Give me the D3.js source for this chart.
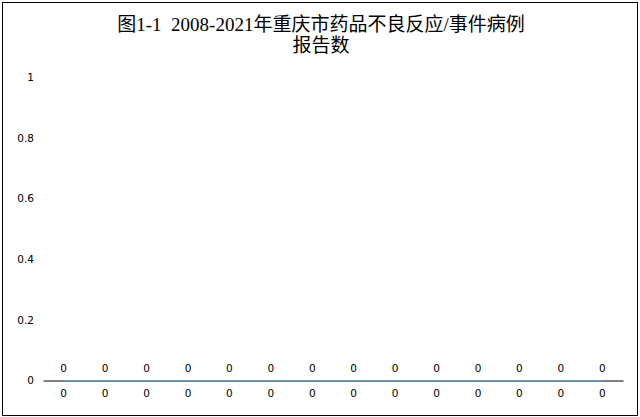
<!DOCTYPE html>
<html>
<head>
<meta charset="utf-8">
<script src="https://cdn.jsdelivr.net/npm/d3@7"></script>
<style>
    body { margin: 0; background: #fff; }
    svg text { font-family: "DejaVu Sans", "Noto Sans CJK SC", sans-serif; }
    svg text.title { font-family: "Liberation Serif", "Noto Sans CJK SC", serif; white-space: pre; }
</style>
</head>
<body>
<svg id="chart"></svg>
<script>
// chart data
var years = ["2008", "2009", "2010", "2011", "2012", "2013", "2014",
    "2015", "2016", "2017", "2018", "2019", "2020", "2021"];
var reportCounts = [0, 0, 0, 0, 0, 0, 0, 0, 0, 0, 0, 0, 0, 0];
var xTickLabels = ["0", "0", "0", "0", "0", "0", "0", "0", "0", "0", "0", "0", "0", "0"];
var yTicks = [0, 0.2, 0.4, 0.6, 0.8, 1];
var titleLines = ["图1-1  2008-2021年重庆市药品不良反应/事件病例", "报告数"];

var width = 640, height = 417;
var margin = {left: 43, right: 17, top: 77, bottom: 36.5};

var svg = d3.select("#chart")
    .attr("width", width)
    .attr("height", height);

// outer frame
svg.append("rect")
    .attr("x", 2.5)
    .attr("y", 2.5)
    .attr("width", 635)
    .attr("height", 413)
    .attr("fill", "none")
    .attr("stroke", "#000")
    .attr("stroke-width", 1);

// title
svg.append("text")
    .attr("class", "title")
    .attr("text-anchor", "middle")
    .attr("font-size", 19)
    .attr("fill", "#000")
    .selectAll("tspan")
    .data(titleLines)
    .enter()
    .append("tspan")
    .attr("x", 321)
    .attr("y", function (d, i) {
        return 31 + i * 21;
    })
    .text(function (d) {
        return d;
    });

var x = d3.scaleBand()
    .domain(years)
    .range([margin.left, width - margin.right]);

var y = d3.scaleLinear()
    .domain([0, 1])
    .range([height - margin.bottom, margin.top]);

// y axis labels (no axis line)
var yAxis = svg.append("g")
    .attr("transform", "translate(" + margin.left + ",0)")
    .call(d3.axisLeft(y).tickValues(yTicks).tickSize(0).tickPadding(9)
        .tickFormat(function (d) {
            return d3.format("")(d);
        }));
yAxis.select(".domain").remove();
yAxis.selectAll("text")
    .attr("font-size", 10.5)
    .attr("fill", "#000");

// x axis
var xAxis = svg.append("g")
    .attr("transform", "translate(0," + y(0) + ")")
    .call(d3.axisBottom(x).tickSize(0).tickSizeOuter(0).tickPadding(9)
        .tickFormat(function (d, i) {
            return xTickLabels[i];
        }));
xAxis.select(".domain")
    .attr("stroke", "#000")
    .attr("stroke-width", 1);
xAxis.selectAll("text")
    .attr("font-size", 10.5)
    .attr("fill", "#000");

// line
var line = d3.line()
    .x(function (d, i) {
        return x(years[i]) + x.bandwidth() / 2;
    })
    .y(function (d) {
        return y(d);
    });

svg.append("path")
    .datum(reportCounts)
    .attr("d", line)
    .attr("fill", "none")
    .attr("stroke", "#5b9bd5")
    .attr("stroke-width", 1.25);

// value labels
svg.append("g")
    .selectAll("text")
    .data(reportCounts)
    .enter()
    .append("text")
    .attr("x", function (d, i) {
        return x(years[i]) + x.bandwidth() / 2;
    })
    .attr("y", function (d) {
        return y(d) - 9;
    })
    .attr("text-anchor", "middle")
    .attr("font-size", 10.5)
    .attr("fill", "#000")
    .text(function (d) {
        return d;
    });
</script>
</body>
</html>
